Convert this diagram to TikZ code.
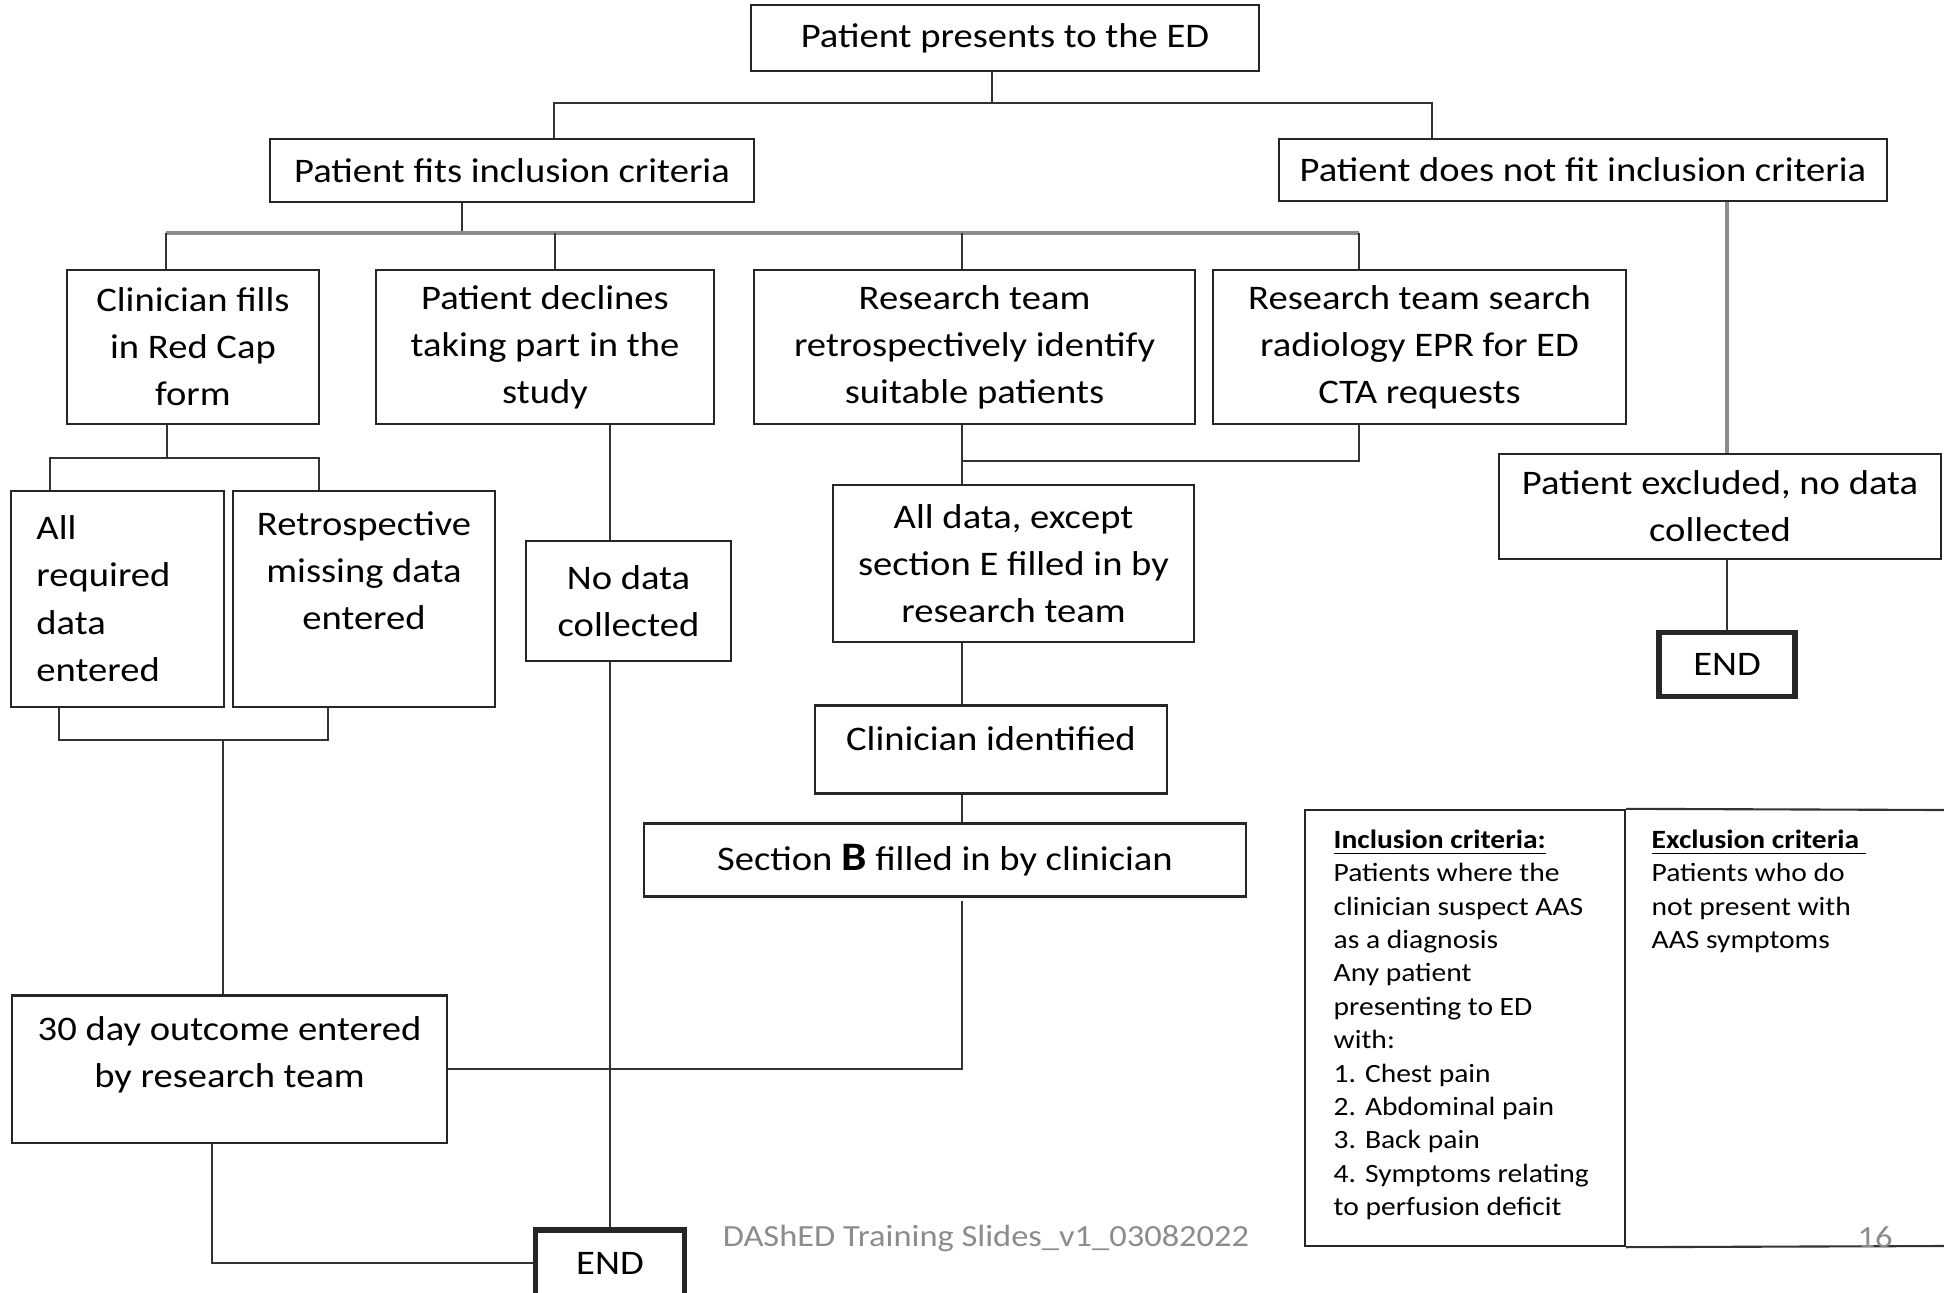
\documentclass[tikz,border=0pt]{standalone}
\usepackage{fontspec}
\setmainfont{Carlito}[FakeStretch=1.12]

\begin{document}
\begin{tikzpicture}[
  x=0.01cm, y=-0.01cm,
  box/.style={rectangle, draw=black!85, line width=0.6pt, inner sep=0pt,
              align=center, font=\fontsize{9.8}{13.4}\selectfont},
  endbox/.style={box, line width=1.5pt},
  toptext/.style={anchor=north, inner sep=0pt, align=center,
                  font=\fontsize{9.8}{13.4}\selectfont, yshift=-0.21cm},
  cell/.style={rectangle, draw=black!85, line width=0.6pt},
  celltext/.style={anchor=north west, inner sep=0pt, align=left,
                   font=\fontsize{7.5}{9.5}\selectfont},
  footer/.style={inner sep=0pt, text=black!45, font=\fontsize{8.75}{11}\selectfont},
  link/.style={draw=black!80, line width=0.6pt},
  greylink/.style={draw=black!45, line width=0.9pt}
]
\useasboundingbox (0,0) rectangle (1944,1293);

% top of the tree
\node[box, minimum width=5.07cm, minimum height=0.66cm] (ed) at (1005,38) {Patient presents to the ED};
\node[box, minimum width=4.835cm, minimum height=0.63cm] (fits) at (512,170.5) {Patient fits inclusion criteria};
\node[box, minimum width=6.075cm, minimum height=0.62cm] (notfit) at (1583,170) {Patient does not fit inclusion criteria};

% four routes
\node[box, minimum width=2.51cm, minimum height=1.54cm] (redcap) at (193,347) {Clinician fills\\in Red Cap\\form};
\node[box, minimum width=3.37cm, minimum height=1.54cm] (declines) at (545,347) {Patient declines\\taking part in the\\study};
\node[box, minimum width=4.40cm, minimum height=1.54cm] (retro) at (974.5,347) {Research team\\retrospectively identify\\suitable patients};
\node[box, minimum width=4.12cm, minimum height=1.54cm] (epr) at (1419.5,347) {Research team search\\radiology EPR for ED\\CTA requests};

\node[box, minimum width=4.42cm, minimum height=1.05cm] (excluded) at (1720,506.5) {Patient excluded, no data\\collected};
\node[endbox, minimum width=1.36cm, minimum height=0.645cm] (end1) at (1727,664.5) {END};

\node[box, minimum width=2.12cm, minimum height=2.16cm, text width=1.62cm, align=left] (allreq) at (117.5,598.7) {All\\required\\data\\entered};
\node[box, minimum width=2.62cm, minimum height=2.16cm,
      label={[toptext]north:Retrospective\\missing data\\entered}] (retromiss) at (364,598.7) {};
\node[box, minimum width=2.04cm, minimum height=1.20cm] (nodata) at (628.5,601) {No data\\collected};

\node[box, minimum width=3.61cm, minimum height=1.57cm] (alldata) at (1013.5,563.5) {All data, except\\section E filled in by\\research team};
\node[box, minimum width=3.51cm, minimum height=0.88cm,
      label={[toptext]north:Clinician identified}] (clinid) at (991,749.5) {};
\node[box, minimum width=6.01cm, minimum height=0.73cm] (sectb) at (945,860) {Section {\fontsize{11.5}{13}\selectfont\bfseries B} filled in by clinician};

\node[box, minimum width=4.34cm, minimum height=1.475cm,
      label={[toptext]north:30 day outcome entered\\by research team}] (outcome) at (229.5,1069.3) {};
\node[endbox, minimum width=1.49cm, minimum height=0.66cm] (end2) at (610,1263) {END};

% criteria table
\node[cell, minimum width=3.20cm, minimum height=4.36cm] (inc) at (1465,1028) {};
\draw[link] (inc.north east) -- (1944,810);
\draw[link] (inc.south east) -- (1944,1246);
\node[celltext] (inctext) at (1333,829) {\underline{\textbf{Inclusion criteria:}}\\
  Patients where the\\clinician suspect AAS\\as a diagnosis\\Any patient\\presenting to ED\\with:\\
  1. Chest pain\\2. Abdominal pain\\3. Back pain\\4. Symptoms relating\\to perfusion deficit};
\node[celltext] (exctext) at (1651,829) {\underline{\textbf{Exclusion criteria\ }}\\
  Patients who do\\not present with\\AAS symptoms};

\node[footer] (foot) at (986,1238) {DAShED Training Slides\_v1\_03082022};
\node[footer] (page) at (1875,1237) {16};

% connectors
\coordinate (j1) at (992,103);
\coordinate (j1l) at (554,103);
\coordinate (j1r) at (1432,103);
\draw[link] (ed.south -| j1) -- (j1);
\draw[link] (fits.north -| j1l) |- (j1r) -- (notfit.north -| j1r);

\coordinate (j2) at (462,233);
\coordinate (j2l) at (166,233);
\coordinate (j2a) at (555,233);
\coordinate (j2b) at (962,233);
\coordinate (j2r) at (1359,233);
\draw[link] (fits.south -| j2) -- (j2);
\draw[greylink] (j2l) -- (j2r);
\draw[link] (j2l) -- (redcap.north -| j2l);
\draw[link] (j2a) -- (declines.north -| j2a);
\draw[link] (j2b) -- (retro.north -| j2b);
\draw[link] (j2r) -- (epr.north -| j2r);

\draw[greylink] (notfit.south -| end1) -- (excluded.north -| end1);
\draw[link] (excluded.south -| end1) -- (end1.north);

\coordinate (j3) at (167,458);
\coordinate (j3l) at (50,458);
\coordinate (j3r) at (319,458);
\draw[link] (redcap.south -| j3) -- (j3);
\draw[link] (allreq.north -| j3l) |- (j3r) -- (retromiss.north -| j3r);

\coordinate (j4) at (223,740);
\coordinate (j4l) at (59,740);
\coordinate (j4r) at (328,740);
\draw[link] (allreq.south -| j4l) |- (j4r) -- (retromiss.south -| j4r);
\draw[link] (j4) -- (outcome.north -| j4);

\draw[link] (declines.south -| end2) -- (nodata.north -| end2);
\draw[link] (nodata.south -| end2) -- (end2.north);

\coordinate (j5) at (962,461);
\draw[link] (retro.south -| j5) -- (alldata.north -| j5);
\draw[link] (epr.south -| j2r) |- (j5);
\draw[link] (alldata.south -| j5) -- (clinid.north -| j5);
\draw[link] (clinid.south -| j5) -- (sectb.north -| j5);

\coordinate (j6) at (962,901);
\draw[link] (j6) |- (outcome.east);

\coordinate (j7) at (212,1262);
\draw[link] (outcome.south -| j7) |- (end2.west);
\end{tikzpicture}
\end{document}
